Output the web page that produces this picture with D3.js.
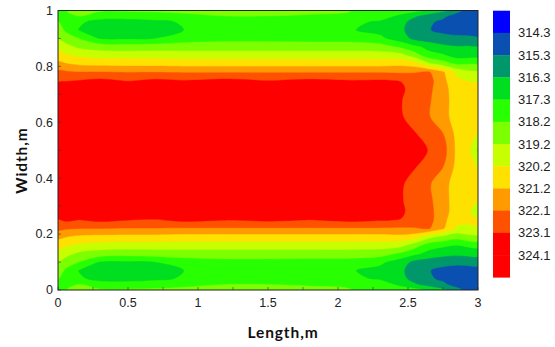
<!DOCTYPE html>
<html>
<head>
<meta charset="utf-8">
<script src="https://cdn.jsdelivr.net/npm/d3@7"></script>
<style>
  body { margin: 0; background: #fff; }
  svg { display: block; }
</style>
</head>
<body>
<div id="chart"></div>
<script>
// grid nodes (m)
const lengthNodes = [0, 0.06, 0.15, 0.3, 0.5, 0.7, 0.9, 1.2, 1.5, 1.8, 2.1, 2.3, 2.45, 2.55, 2.65, 2.75, 2.85, 2.93, 3.0];
const widthNodes = [0, 0.02, 0.04, 0.07, 0.10, 0.13, 0.16, 0.19, 0.22, 0.25, 0.28, 0.32, 0.38, 0.44, 0.5,
  0.56, 0.62, 0.68, 0.72, 0.75, 0.78, 0.81, 0.84, 0.87, 0.90, 0.93, 0.96, 0.98, 1.0];

// temperature (K), one row per width node, bottom to top
const tempRows = [
  [317.9, 318.2, 318.4, 318.3, 318.3, 318.35, 318.4, 318.5, 318.5, 318.45, 318.2, 318.0, 317.7, 317.6, 317.0, 316.5, 315.6, 314.9, 314.45],
  [318.0, 318.1, 318.2, 317.7, 317.7, 317.8, 318.0, 318.2, 318.2, 318.1, 317.9, 317.7, 317.1, 316.4, 315.9, 315.5, 314.9, 314.6, 314.5],
  [318.25, 317.8, 317.45, 317.0, 316.95, 317.1, 317.4, 317.6, 317.6, 317.55, 317.45, 317.2, 316.6, 315.9, 315.45, 315.1, 314.7, 314.6, 314.6],
  [318.7, 318.0, 317.25, 316.9, 316.85, 317.0, 317.3, 317.5, 317.5, 317.45, 317.35, 317.0, 316.45, 315.8, 315.35, 315.0, 314.8, 314.9, 315.0],
  [319.2, 318.7, 318.2, 317.2, 317.15, 317.3, 317.7, 317.9, 317.9, 317.85, 317.8, 317.5, 316.8, 316.0, 315.7, 315.7, 315.6, 315.6, 315.6],
  [319.9, 319.5, 319.0, 318.7, 318.6, 318.65, 318.7, 318.7, 318.7, 318.7, 318.7, 318.6, 318.0, 317.5, 317.0, 316.6, 316.5, 316.6, 316.7],
  [320.6, 320.3, 320.0, 319.8, 319.75, 319.75, 319.7, 319.7, 319.7, 319.7, 319.7, 319.7, 319.5, 318.6, 317.7, 317.5, 317.3, 317.5, 317.6],
  [321.4, 321.2, 321.0, 320.9, 320.85, 320.85, 320.8, 320.8, 320.8, 320.8, 320.8, 320.8, 320.9, 320.6, 319.5, 318.9, 318.5, 318.9, 318.9],
  [322.3, 322.2, 322.1, 322.1, 322.05, 322.05, 322.0, 322.0, 322.0, 322.0, 322.0, 322.0, 321.95, 322.05, 322.15, 321.3, 320.0, 320.0, 320.1],
  [323.0, 323.25, 323.05, 323.3, 323.1, 323.0, 323.3, 323.1, 323.25, 323.05, 323.3, 323.15, 323.05, 322.5, 322.4, 321.45, 320.5, 320.4, 320.4],
  [323.6, 323.75, 323.9, 324.0, 324.0, 324.0, 324.0, 324.0, 324.0, 324.0, 323.95, 323.85, 323.3, 322.6, 322.4, 321.5, 320.8, 320.5, 319.1],
  [324.2, 324.35, 324.5, 324.6, 324.6, 324.6, 324.6, 324.6, 324.6, 324.6, 324.55, 324.4, 323.2, 322.55, 322.3, 321.5, 320.8, 320.6, 320.3],
  [324.5, 324.6, 324.8, 324.85, 324.85, 324.85, 324.85, 324.85, 324.85, 324.85, 324.8, 324.7, 323.25, 322.6, 322.2, 321.5, 320.8, 320.7, 320.6],
  [324.7, 324.8, 324.9, 324.95, 324.95, 324.95, 324.95, 324.95, 324.95, 324.95, 324.95, 324.85, 324.0, 323.15, 322.6, 322.1, 320.9, 320.6, 320.15],
  [324.8, 324.9, 325.0, 325.0, 325.0, 325.0, 325.0, 325.0, 325.0, 325.0, 325.0, 324.95, 324.5, 323.9, 323.0, 322.5, 320.95, 320.5, 319.0],
  [324.7, 324.8, 324.9, 324.95, 324.95, 324.95, 324.95, 324.95, 324.95, 324.95, 324.95, 324.85, 324.0, 323.15, 322.6, 322.1, 320.9, 320.6, 320.15],
  [324.5, 324.6, 324.8, 324.85, 324.85, 324.85, 324.85, 324.85, 324.85, 324.85, 324.8, 324.7, 323.2, 322.6, 322.15, 321.5, 320.8, 320.7, 320.6],
  [324.2, 324.35, 324.5, 324.6, 324.6, 324.6, 324.6, 324.6, 324.6, 324.6, 324.55, 324.4, 323.15, 322.55, 322.2, 321.5, 320.8, 320.6, 320.6],
  [323.6, 323.75, 323.9, 324.0, 324.0, 324.0, 324.0, 324.0, 324.0, 324.0, 323.95, 323.85, 323.3, 322.6, 322.3, 321.5, 320.7, 320.5, 320.4],
  [322.95, 323.0, 323.1, 323.3, 323.0, 323.25, 323.1, 323.3, 323.05, 323.25, 323.1, 323.15, 323.05, 322.5, 322.4, 321.45, 320.4, 320.15, 320.1],
  [322.3, 322.2, 322.1, 322.1, 322.05, 322.05, 322.0, 322.0, 322.0, 322.0, 322.0, 322.0, 321.95, 322.05, 322.15, 321.3, 319.9, 319.4, 319.3],
  [321.4, 321.2, 321.0, 320.9, 320.85, 320.85, 320.8, 320.8, 320.8, 320.8, 320.8, 320.8, 320.9, 320.6, 319.3, 318.6, 318.0, 318.1, 318.0],
  [320.6, 320.3, 320.0, 319.8, 319.75, 319.75, 319.7, 319.7, 319.7, 319.7, 319.7, 319.7, 319.5, 318.6, 317.6, 317.4, 316.9, 316.9, 316.9],
  [319.9, 319.5, 319.0, 318.7, 318.6, 318.65, 318.7, 318.7, 318.7, 318.7, 318.7, 318.6, 318.0, 317.5, 317.0, 316.5, 316.35, 316.4, 316.3],
  [319.2, 318.7, 318.2, 317.2, 317.15, 317.3, 317.7, 317.9, 317.9, 317.85, 317.8, 317.5, 316.8, 316.0, 315.7, 315.7, 315.6, 315.5, 315.4],
  [318.7, 318.0, 317.25, 316.9, 316.85, 317.0, 317.3, 317.5, 317.5, 317.45, 317.35, 317.0, 316.45, 315.8, 315.35, 315.0, 314.8, 314.9, 314.8],
  [318.25, 317.8, 317.45, 317.0, 316.95, 317.1, 317.4, 317.6, 317.6, 317.55, 317.45, 317.2, 316.6, 315.9, 315.45, 315.1, 314.7, 314.6, 314.5],
  [318.0, 318.1, 318.2, 317.7, 317.7, 317.8, 318.0, 318.2, 318.2, 318.1, 317.9, 317.7, 317.1, 316.4, 315.9, 315.5, 314.9, 314.6, 314.45],
  [317.9, 318.2, 318.4, 318.3, 318.3, 318.35, 318.4, 318.5, 318.5, 318.45, 318.2, 318.0, 317.7, 317.6, 317.0, 316.5, 315.6, 314.9, 314.4]
];

const levels = [314.3, 315.3, 316.3, 317.3, 318.2, 319.2, 320.2, 321.2, 322.1, 323.1, 324.1];
// colour below the first level, then the colour above each level
const levelColors = ['#0000ff', '#0a50b0', '#00976a', '#00de20', '#28ff00', '#7cff00',
  '#c8ff00', '#ffe100', '#ff9a00', '#ff5200', '#ff0000', '#ff0000'];
const xTicks = [0, 0.5, 1, 1.5, 2, 2.5, 3];
const yTicks = [0, 0.2, 0.4, 0.6, 0.8, 1];

const width = 555, height = 347;
const plot = {left: 58, right: 478, top: 10.5, bottom: 290};

const svg = d3.select('#chart').append('svg')
  .attr('width', width)
  .attr('height', height);

const x = d3.scaleLinear().domain([0, 3]).range([plot.left, plot.right]);
const y = d3.scaleLinear().domain([0, 1]).range([plot.bottom, plot.top]);

// grid index -> metres (nodes are not evenly spaced)
const nx = lengthNodes.length, ny = widthNodes.length;
const colToLen = d3.scaleLinear().domain(d3.range(nx)).range(lengthNodes).clamp(true);
const rowToWid = d3.scaleLinear().domain(d3.range(ny)).range(widthNodes).clamp(true);

const contours = d3.contours()
  .size([nx, ny])
  .thresholds(levels)(tempRows.flat());

// points on the grid border are pushed outside the frame so the
// smoothed outline does not round off the plot corners (it is clipped anyway)
const pad = 6;
function toScreen([px, py]) {
  let sx = x(colToLen(px - 0.5));
  let sy = y(rowToWid(py - 0.5));
  if (px === 0) sx = plot.left - pad;
  if (px === nx) sx = plot.right + pad;
  if (py === 0) sy = plot.bottom + pad;
  if (py === ny) sy = plot.top - pad;
  return [sx, sy];
}

const smooth = d3.line().curve(d3.curveCatmullRomClosed.alpha(0.5));

function ringPath(ring) {
  const pts = [];
  ring.slice(0, -1).forEach(p => {
    const s = toScreen(p);
    const last = pts[pts.length - 1];
    if (!last || Math.hypot(s[0] - last[0], s[1] - last[1]) > 0.05) pts.push(s);
  });
  return pts.length > 2 ? smooth(pts) : '';
}

function contourPath(c) {
  return c.coordinates.map(poly => poly.map(ringPath).join('')).join('');
}

svg.append('clipPath').attr('id', 'plot-clip')
  .append('rect')
  .attr('x', plot.left).attr('y', plot.top)
  .attr('width', plot.right - plot.left).attr('height', plot.bottom - plot.top);

const field = svg.append('g').attr('clip-path', 'url(#plot-clip)');

field.append('rect')
  .attr('x', plot.left).attr('y', plot.top)
  .attr('width', plot.right - plot.left).attr('height', plot.bottom - plot.top)
  .attr('fill', levelColors[0]);

field.selectAll('path')
  .data(contours)
  .enter()
  .append('path')
  .attr('d', contourPath)
  .attr('fill', (d, i) => levelColors[i + 1])
  .attr('stroke', (d, i) => levelColors[i + 1])
  .attr('stroke-width', 0.4);

// frame
svg.append('rect')
  .attr('x', plot.left).attr('y', plot.top)
  .attr('width', plot.right - plot.left).attr('height', plot.bottom - plot.top)
  .attr('fill', 'none')
  .attr('stroke', '#222')
  .attr('stroke-width', 1);

// small inward ticks
const g = svg.append('g');
g.selectAll('line.xt')
  .data(d3.range(0, 3.001, 0.25))
  .enter().append('line')
  .attr('x1', d => x(d)).attr('x2', d => x(d))
  .attr('y1', plot.bottom).attr('y2', plot.bottom - 3)
  .attr('stroke', '#333').attr('stroke-width', 0.6);
g.selectAll('line.yt')
  .data(d3.range(0, 1.001, 0.1))
  .enter().append('line')
  .attr('x1', plot.left).attr('x2', plot.left + 3)
  .attr('y1', d => y(d)).attr('y2', d => y(d))
  .attr('stroke', '#333').attr('stroke-width', 0.6);

const tickFont = '"Liberation Sans", Arial, sans-serif';
const titleFont = 'Lato, Carlito, sans-serif';

g.selectAll('text.xl')
  .data(xTicks)
  .enter().append('text')
  .attr('x', d => x(d))
  .attr('y', 307)
  .attr('text-anchor', 'middle')
  .attr('font-family', tickFont)
  .attr('font-size', 12.5)
  .attr('fill', '#222')
  .text(d => d);

g.selectAll('text.yl')
  .data(yTicks)
  .enter().append('text')
  .attr('x', 53)
  .attr('y', d => y(d) + 4.3)
  .attr('text-anchor', 'end')
  .attr('font-family', tickFont)
  .attr('font-size', 12.5)
  .attr('fill', '#222')
  .text(d => d);

svg.append('text')
  .attr('x', 283)
  .attr('y', 338)
  .attr('text-anchor', 'middle')
  .attr('font-family', titleFont)
  .attr('font-weight', 'bold')
  .attr('font-size', 15.5)
  .attr('letter-spacing', 0.9)
  .attr('fill', '#111')
  .text('Length,m');

svg.append('text')
  .attr('transform', 'translate(27,160.5) rotate(-90)')
  .attr('text-anchor', 'middle')
  .attr('font-family', titleFont)
  .attr('font-weight', 'bold')
  .attr('font-size', 15.5)
  .attr('letter-spacing', 0.9)
  .attr('fill', '#111')
  .text('Width,m');

// legend
const legend = {x: 493, w: 17, top: 10.7, bottom: 277.3};
const ly = d3.scaleLinear().domain([0, levelColors.length]).range([legend.top, legend.bottom]);
const lg = svg.append('g');
lg.selectAll('rect')
  .data(levelColors)
  .enter().append('rect')
  .attr('x', legend.x)
  .attr('y', (d, i) => ly(i))
  .attr('width', legend.w)
  .attr('height', (d, i) => ly(i + 1) - ly(i) + 0.3)
  .attr('fill', d => d);

lg.selectAll('text')
  .data(levels)
  .enter().append('text')
  .attr('x', 518)
  .attr('y', (d, i) => ly(i + 1) + 4.5)
  .attr('font-family', tickFont)
  .attr('font-size', 13)
  .attr('fill', '#222')
  .text(d => d.toFixed(1));
</script>
</body>
</html>
